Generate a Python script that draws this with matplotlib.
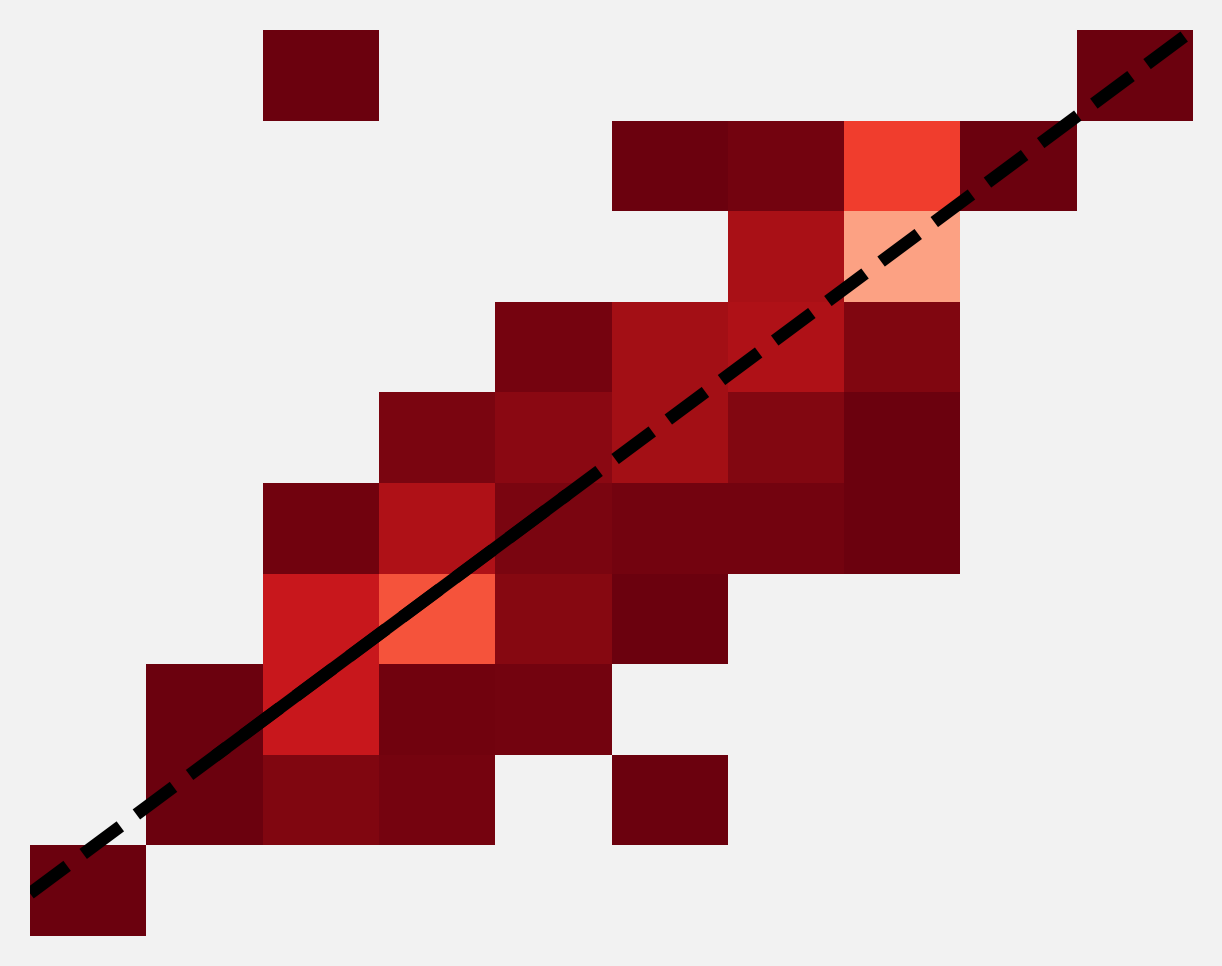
import matplotlib.pyplot as plt
import numpy as np

# cell values, top row first (nan = empty cell)
nan = np.nan
rows = [
    [nan, nan, 0.99, nan, nan, nan, nan, nan, nan, 0.99],
    [nan, nan, nan, nan, nan, 0.99, 0.975, 0.62, 0.99, nan],
    [nan, nan, nan, nan, nan, nan, 0.86, 0.33, nan, nan],
    [nan, nan, nan, nan, 0.97, 0.877, 0.84, 0.948, nan, nan],
    [nan, nan, nan, 0.958, 0.929, 0.877, 0.944, 0.99, nan, nan],
    [nan, nan, 0.98, 0.84, 0.958, 0.976, 0.976, 0.99, nan, nan],
    [nan, nan, 0.76, 0.56, 0.935, 0.99, nan, nan, nan, nan],
    [nan, 0.99, 0.76, 0.98, 0.975, nan, nan, nan, nan, nan],
    [nan, 0.99, 0.948, 0.97, nan, 0.99, nan, nan, nan, nan],
    [0.99, nan, nan, nan, nan, nan, nan, nan, nan, nan],
]
grid = np.array(rows)[::-1]  # bottom row first for pcolormesh

# fitted line
slope = 0.953
intercept = 0.47
fit_x = [0.0, 10.5]
seg_x = [1.6, 4.61]

bg = '#f2f2f2'
fig = plt.figure(figsize=(12.22, 9.66), dpi=100, facecolor=bg)
ax = fig.add_axes([30 / 1222, 30 / 966, 1163 / 1222, 906 / 966])
ax.set_facecolor(bg)

xe = np.arange(grid.shape[1] + 1)
ye = np.arange(grid.shape[0] + 1)
ax.pcolormesh(xe, ye, np.ma.masked_invalid(grid), cmap='Reds', vmin=0, vmax=1)

sx = np.array(seg_x)
ax.plot(sx, intercept + slope * sx, color='black', lw=9,
        solid_capstyle='round')
fx = np.array(fit_x)
ax.plot(fx, intercept + slope * fx, color='black', lw=9, ls='--',
        dashes=(3.7, 1.6))

ax.set_xlim(0, 10)
ax.set_ylim(0, 10)
ax.axis('off')

fig.savefig('out.png', dpi=100, facecolor=bg)
